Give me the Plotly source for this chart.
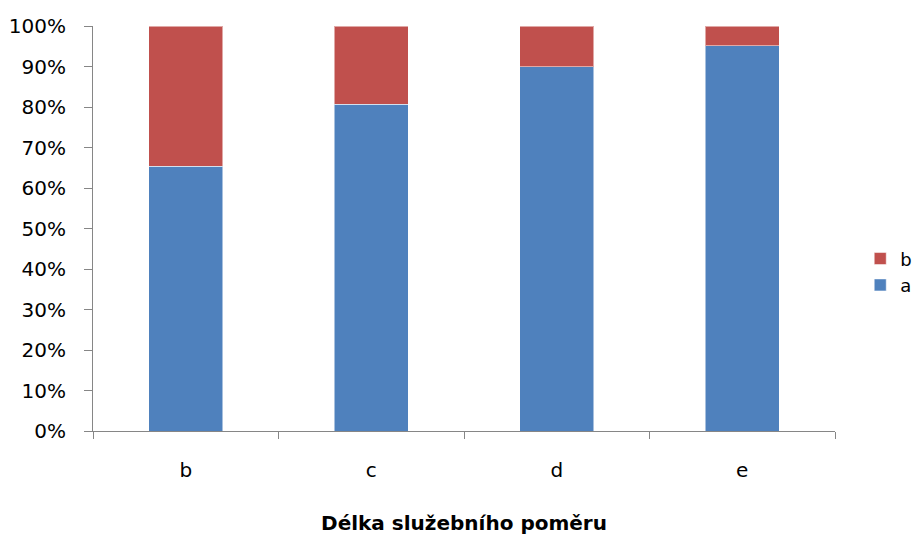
import plotly.graph_objects as go

categories = ["b", "c", "d", "e"]
series_a = [65.4, 80.7, 89.9, 95.1]
series_b = [34.6, 19.3, 10.1, 4.9]
y_ticks = [0, 10, 20, 30, 40, 50, 60, 70, 80, 90, 100]
y_tick_labels = [f"{v}%" for v in y_ticks]

FONT = "DejaVu Sans, Verdana, sans-serif"
AXIS_COL = "#868686"

fig = go.Figure()
fig.add_trace(go.Bar(x=categories, y=series_a, name="a",
                     marker=dict(color="#4F81BD", line=dict(color="rgba(255,255,255,0.5)", width=1))))
fig.add_trace(go.Bar(x=categories, y=series_b, name="b",
                     marker=dict(color="#C0504D", line=dict(color="rgba(255,255,255,0.5)", width=1))))

fig.update_layout(
    width=915, height=536,
    barmode="stack", bargap=0.6,
    plot_bgcolor="white", paper_bgcolor="white",
    margin=dict(l=93, r=80, t=26, b=105, autoexpand=False),
    font=dict(family=FONT, size=20, color="black"),
    showlegend=True,
    legend=dict(x=1.034, y=0.393, xanchor="left", yanchor="middle",
                traceorder="reversed", itemwidth=30,
                font=dict(family=FONT, size=18)),
    xaxis=dict(
        showline=True, linecolor=AXIS_COL, linewidth=1,
        ticks="outside", ticklen=7, tickcolor=AXIS_COL, tickson="boundaries",
        showgrid=False, ticklabelstandoff=21, automargin=False,
        title=dict(text="<b>Délka služebního poměru</b>", standoff=34,
                   font=dict(family=FONT, size=20)),
    ),
    yaxis=dict(
        range=[0, 100], tickvals=y_ticks, ticktext=y_tick_labels,
        showline=True, linecolor=AXIS_COL, linewidth=1,
        ticks="outside", ticklen=8, tickcolor=AXIS_COL, ticklabelstandoff=14,
        showgrid=False, zeroline=False, automargin=False,
    ),
)

fig.write_html("out.html", config={"displayModeBar": False},
               post_script="document.body.style.margin='0';")
